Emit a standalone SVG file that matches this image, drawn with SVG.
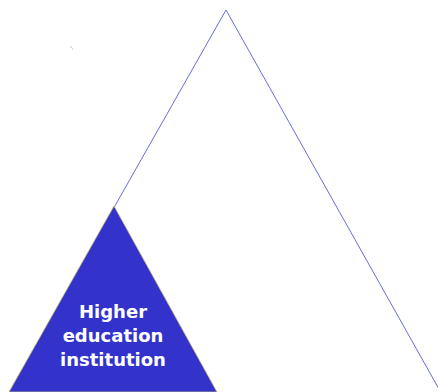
<svg xmlns="http://www.w3.org/2000/svg" width="438" height="392" viewBox="0 0 438 392">
<style>
.outline{fill:none;stroke:#6b6bdc;stroke-width:1}
.solid{fill:#3333cc;stroke:#c8c070;stroke-width:0.8}
.lbl{font-family:"DejaVu Sans",Verdana,sans-serif;font-weight:bold;font-size:18px;fill:#ffffff;text-anchor:middle}
</style>
<rect width="438" height="392" fill="#ffffff"/>
<g id="outer">
<polyline class="outline" points="6,398 226,10 444,398"/>
</g>
<g id="speck"><rect x="70.5" y="46.5" width="1" height="1" fill="#888"/><rect x="72" y="48.5" width="1" height="1" fill="#bbb"/></g>
<g id="hei">
<polygon class="solid" points="114,206 9,392 217,392"/>
<text class="lbl" x="113" y="318">Higher</text>
<text class="lbl" x="113" y="342">education</text>
<text class="lbl" x="113" y="366">institution</text>
</g>
</svg>
